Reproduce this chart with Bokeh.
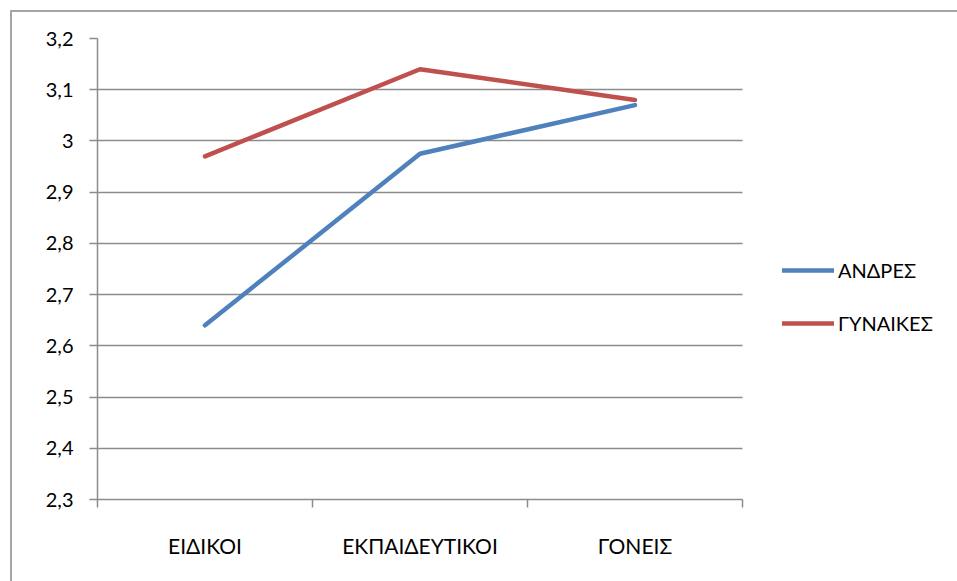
from bokeh.plotting import figure
from bokeh.models import FixedTicker, Legend, LegendItem, Range1d
from bokeh.layouts import column
from bokeh.embed import file_html
from bokeh.resources import INLINE

categories = ["ΕΙΔΙΚΟΙ", "ΕΚΠΑΙΔΕΥΤΙΚΟΙ", "ΓΟΝΕΙΣ"]
series_names = ["ΑΝΔΡΕΣ", "ΓΥΝΑΙΚΕΣ"]
andres = [2.64, 2.975, 3.07]
gynaikes = [2.97, 3.14, 3.08]
y_ticks = [2.3, 2.4, 2.5, 2.6, 2.7, 2.8, 2.9, 3.0, 3.1, 3.2]
y_tick_labels = ["2,3", "2,4", "2,5", "2,6", "2,7", "2,8", "2,9", "3", "3,1", "3,2"]

FONT = "Lato"
FS = "20px"
n = len(categories)
x_pos = [i + 0.5 for i in range(n)]

# plot area spans 645px for the categories; frame extended to the right to host the legend
W, H = 945, 569
BL, BR, BT, BB = 85, 5, 26, 82
cat_px = 645
frame_px = W - BL - BR
x_end = n * frame_px / cat_px

p = figure(width=W, height=H, output_backend="svg", toolbar_location=None,
           x_range=Range1d(0, x_end), y_range=Range1d(2.3, 3.2),
           min_border_left=BL, min_border_right=BR, min_border_top=BT, min_border_bottom=BB)
p.outline_line_color = None
p.background_fill_color = "white"
p.border_fill_color = "white"

r1 = p.line(x_pos, andres, line_color="#4F81BD", line_width=4.5, line_cap="round", line_join="round")
r2 = p.line(x_pos, gynaikes, line_color="#C0504D", line_width=4.5, line_cap="round", line_join="round")

# y axis
p.yaxis.ticker = FixedTicker(ticks=y_ticks)
p.yaxis.major_label_overrides = {t: l for t, l in zip(y_ticks, y_tick_labels)}
p.yaxis.axis_line_color = "#8c8c8c"
p.yaxis.axis_line_width = 1.5
p.yaxis.major_tick_line_color = "#8c8c8c"
p.yaxis.major_tick_line_width = 1.5
p.yaxis.major_tick_out = 8
p.yaxis.major_tick_in = 0
p.yaxis.minor_tick_line_color = None
p.yaxis.major_label_standoff = 16
p.yaxis.major_label_text_font = FONT
p.yaxis.major_label_text_font_size = FS
p.yaxis.major_label_text_color = "#000000"

# x axis
p.xaxis.bounds = (0, n)
p.xaxis.ticker = FixedTicker(ticks=x_pos, minor_ticks=list(range(n + 1)))
p.xaxis.major_label_overrides = {x: c for x, c in zip(x_pos, categories)}
p.xaxis.axis_line_color = "#8c8c8c"
p.xaxis.axis_line_width = 1.5
p.xaxis.major_tick_line_color = None
p.xaxis.major_tick_out = 0
p.xaxis.major_tick_in = 0
p.xaxis.minor_tick_line_color = "#8c8c8c"
p.xaxis.minor_tick_line_width = 1.5
p.xaxis.minor_tick_out = 8
p.xaxis.minor_tick_in = 0
p.xaxis.major_label_standoff = 25
p.xaxis.major_label_text_font = FONT
p.xaxis.major_label_text_font_size = "21px"
p.xaxis.major_label_text_color = "#000000"

p.xgrid.grid_line_color = None
p.ygrid.ticker = FixedTicker(ticks=y_ticks)
p.ygrid.cross_bounds = (0, n)
p.ygrid.grid_line_color = "#8c8c8c"
p.ygrid.grid_line_width = 1.5

legend = Legend(items=[LegendItem(label=series_names[0], renderers=[r1]),
                       LegendItem(label=series_names[1], renderers=[r2])],
                location=(685, 164), orientation="vertical",
                glyph_width=52, glyph_height=20, label_height=20,
                spacing=29, padding=0, margin=0, label_standoff=4,
                label_text_font=FONT, label_text_font_size=FS,
                label_text_color="#000000",
                border_line_color=None, background_fill_alpha=0)
p.add_layout(legend, "center")

layout = column(p, margin=(10, 0, 0, 10),
                styles={"border-left": "2px solid #a6a6a6", "border-top": "2px solid #a6a6a6"})

open("out.html", "w").write(file_html(layout, INLINE))
